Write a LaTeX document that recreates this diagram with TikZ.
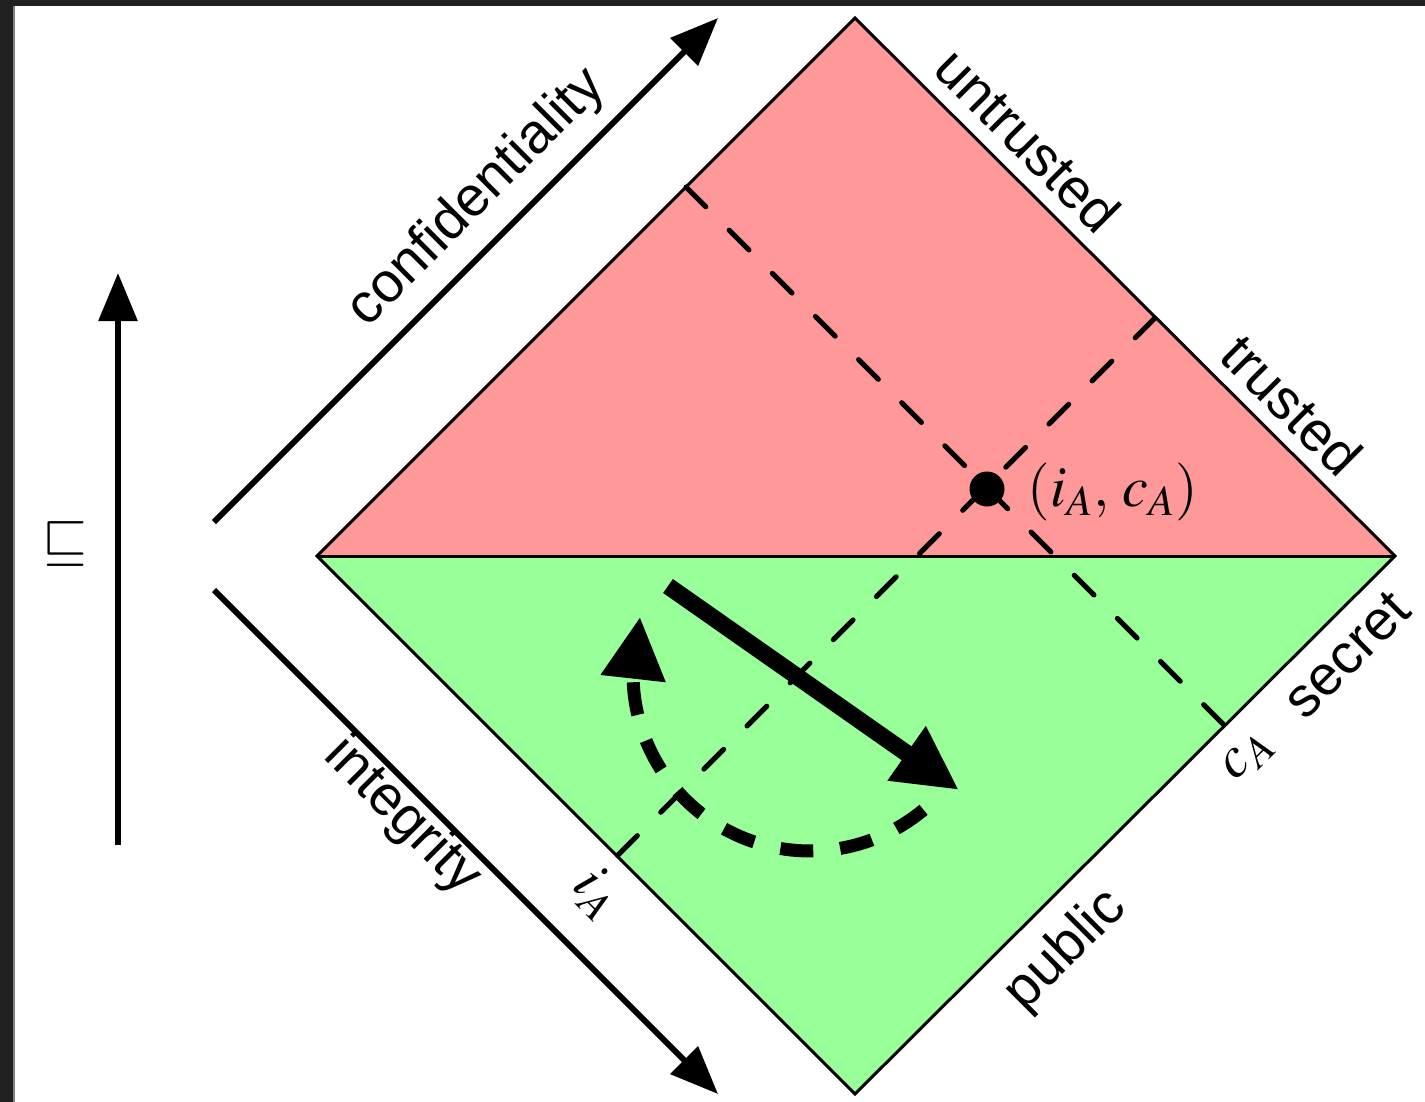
\documentclass[tikz,border=0pt]{standalone}
\usepackage{mathptmx}
\usepackage{fontspec}
\setmainfont{Liberation Sans}
\usetikzlibrary{arrows.meta,calc}
\definecolor{redfill}{RGB}{255,153,153}
\definecolor{greenfill}{RGB}{153,255,153}
\definecolor{framecol}{RGB}{33,33,33}
\begin{document}
\begin{tikzpicture}[x=0.5pt,y=-0.5pt,
  lab/.style={font=\fontsize{28}{34}\selectfont, inner sep=0pt},
  mlab/.style={font=\fontsize{29}{34}\selectfont, inner sep=0pt},
  axisarrow/.style={line width=3pt, -{Triangle[length=24pt,width=19pt]}},
  guide/.style={line width=2.5pt, line cap=round, dash pattern=on 14pt off 16.5pt},
  diamondedge/.style={line width=1.5pt, line join=miter},
  flow/.style={line width=8.5pt, -{Triangle[length=32pt,width=31pt]}},
  backflow/.style={line width=6.5pt, dash pattern=on 16.5pt off 13.5pt, -{Triangle[length=31pt,width=31pt]}}
]
\useasboundingbox (0,0) rectangle (1425,1102);
\fill[white] (0,0) rectangle (1425,1102);
\fill[framecol] (0,0) rectangle (1425,6);
\fill[framecol] (0,0) rectangle (13,1102);
\fill[gray] (13,6) rectangle (14.5,1102);

% diamond
\coordinate (T) at (855,18);
\coordinate (L) at (317,556);
\coordinate (R) at (1395,556);
\coordinate (B) at (855,1094);
\fill[redfill] (L) -- (T) -- (R) -- cycle;
\fill[greenfill] (L) -- (B) -- (R) -- cycle;
\draw[diamondedge] (L) -- (T) -- (R) -- (B) -- cycle;
\draw[diamondedge] (L) -- (R);

% guides
\coordinate (cA1) at (686,187);
\coordinate (cA2) at (1225,726);
\coordinate (iA1) at (1155,318);
\coordinate (iA2) at (617,856);
\draw[guide] (cA1) -- (cA2);
\draw[guide] (iA1) -- (iA2);
\node[circle, fill=black, inner sep=0pt, minimum size=17.5pt] (pt) at (987,489) {};

% flows
\coordinate (m1) at (668,586);
\coordinate (m2) at (959,790);
\draw[flow] (m1) -- (m2);
\coordinate (btip) at (640,617);
\draw[backflow] plot[domain=50.1:178.4, samples=60] ({810+177*cos(\x)},{674+177*sin(\x)}) -- (btip);

% axes
\coordinate (c0) at (214,522); \coordinate (c1) at (718,18);
\draw[axisarrow] (c0) -- (c1);
\coordinate (g0) at (214,590); \coordinate (g1) at (718,1094);
\draw[axisarrow] (g0) -- (g1);
\coordinate (v0) at (118,845); \coordinate (v1) at (118,273);
\draw[axisarrow] (v0) -- (v1);

% labels
\node[lab, rotate=45] (conf) at (477,198) {confidentiality};
\node[lab, rotate=-45] (integ) at (402,817) {integrity};
\node[lab, rotate=-45] (untr) at (1028,140) {untrusted};
\node[lab, rotate=-45] (trus) at (1292,405) {trusted};
\node[lab, rotate=45] (secr) at (1347,655) {secret};
\node[lab, rotate=45] (publ) at (1066,951) {public};
\node[mlab, rotate=45] (cAl) at (1248,757) {$c_A$};
\node[mlab, rotate=-45] (iAl) at (597,893) {$i_A$};
\node[mlab] (pair) at (1113,492) {$(i_A,\,c_A)$};
\node[mlab] (order) at (65,544) {$\sqsubseteq$};
\end{tikzpicture}
\end{document}
